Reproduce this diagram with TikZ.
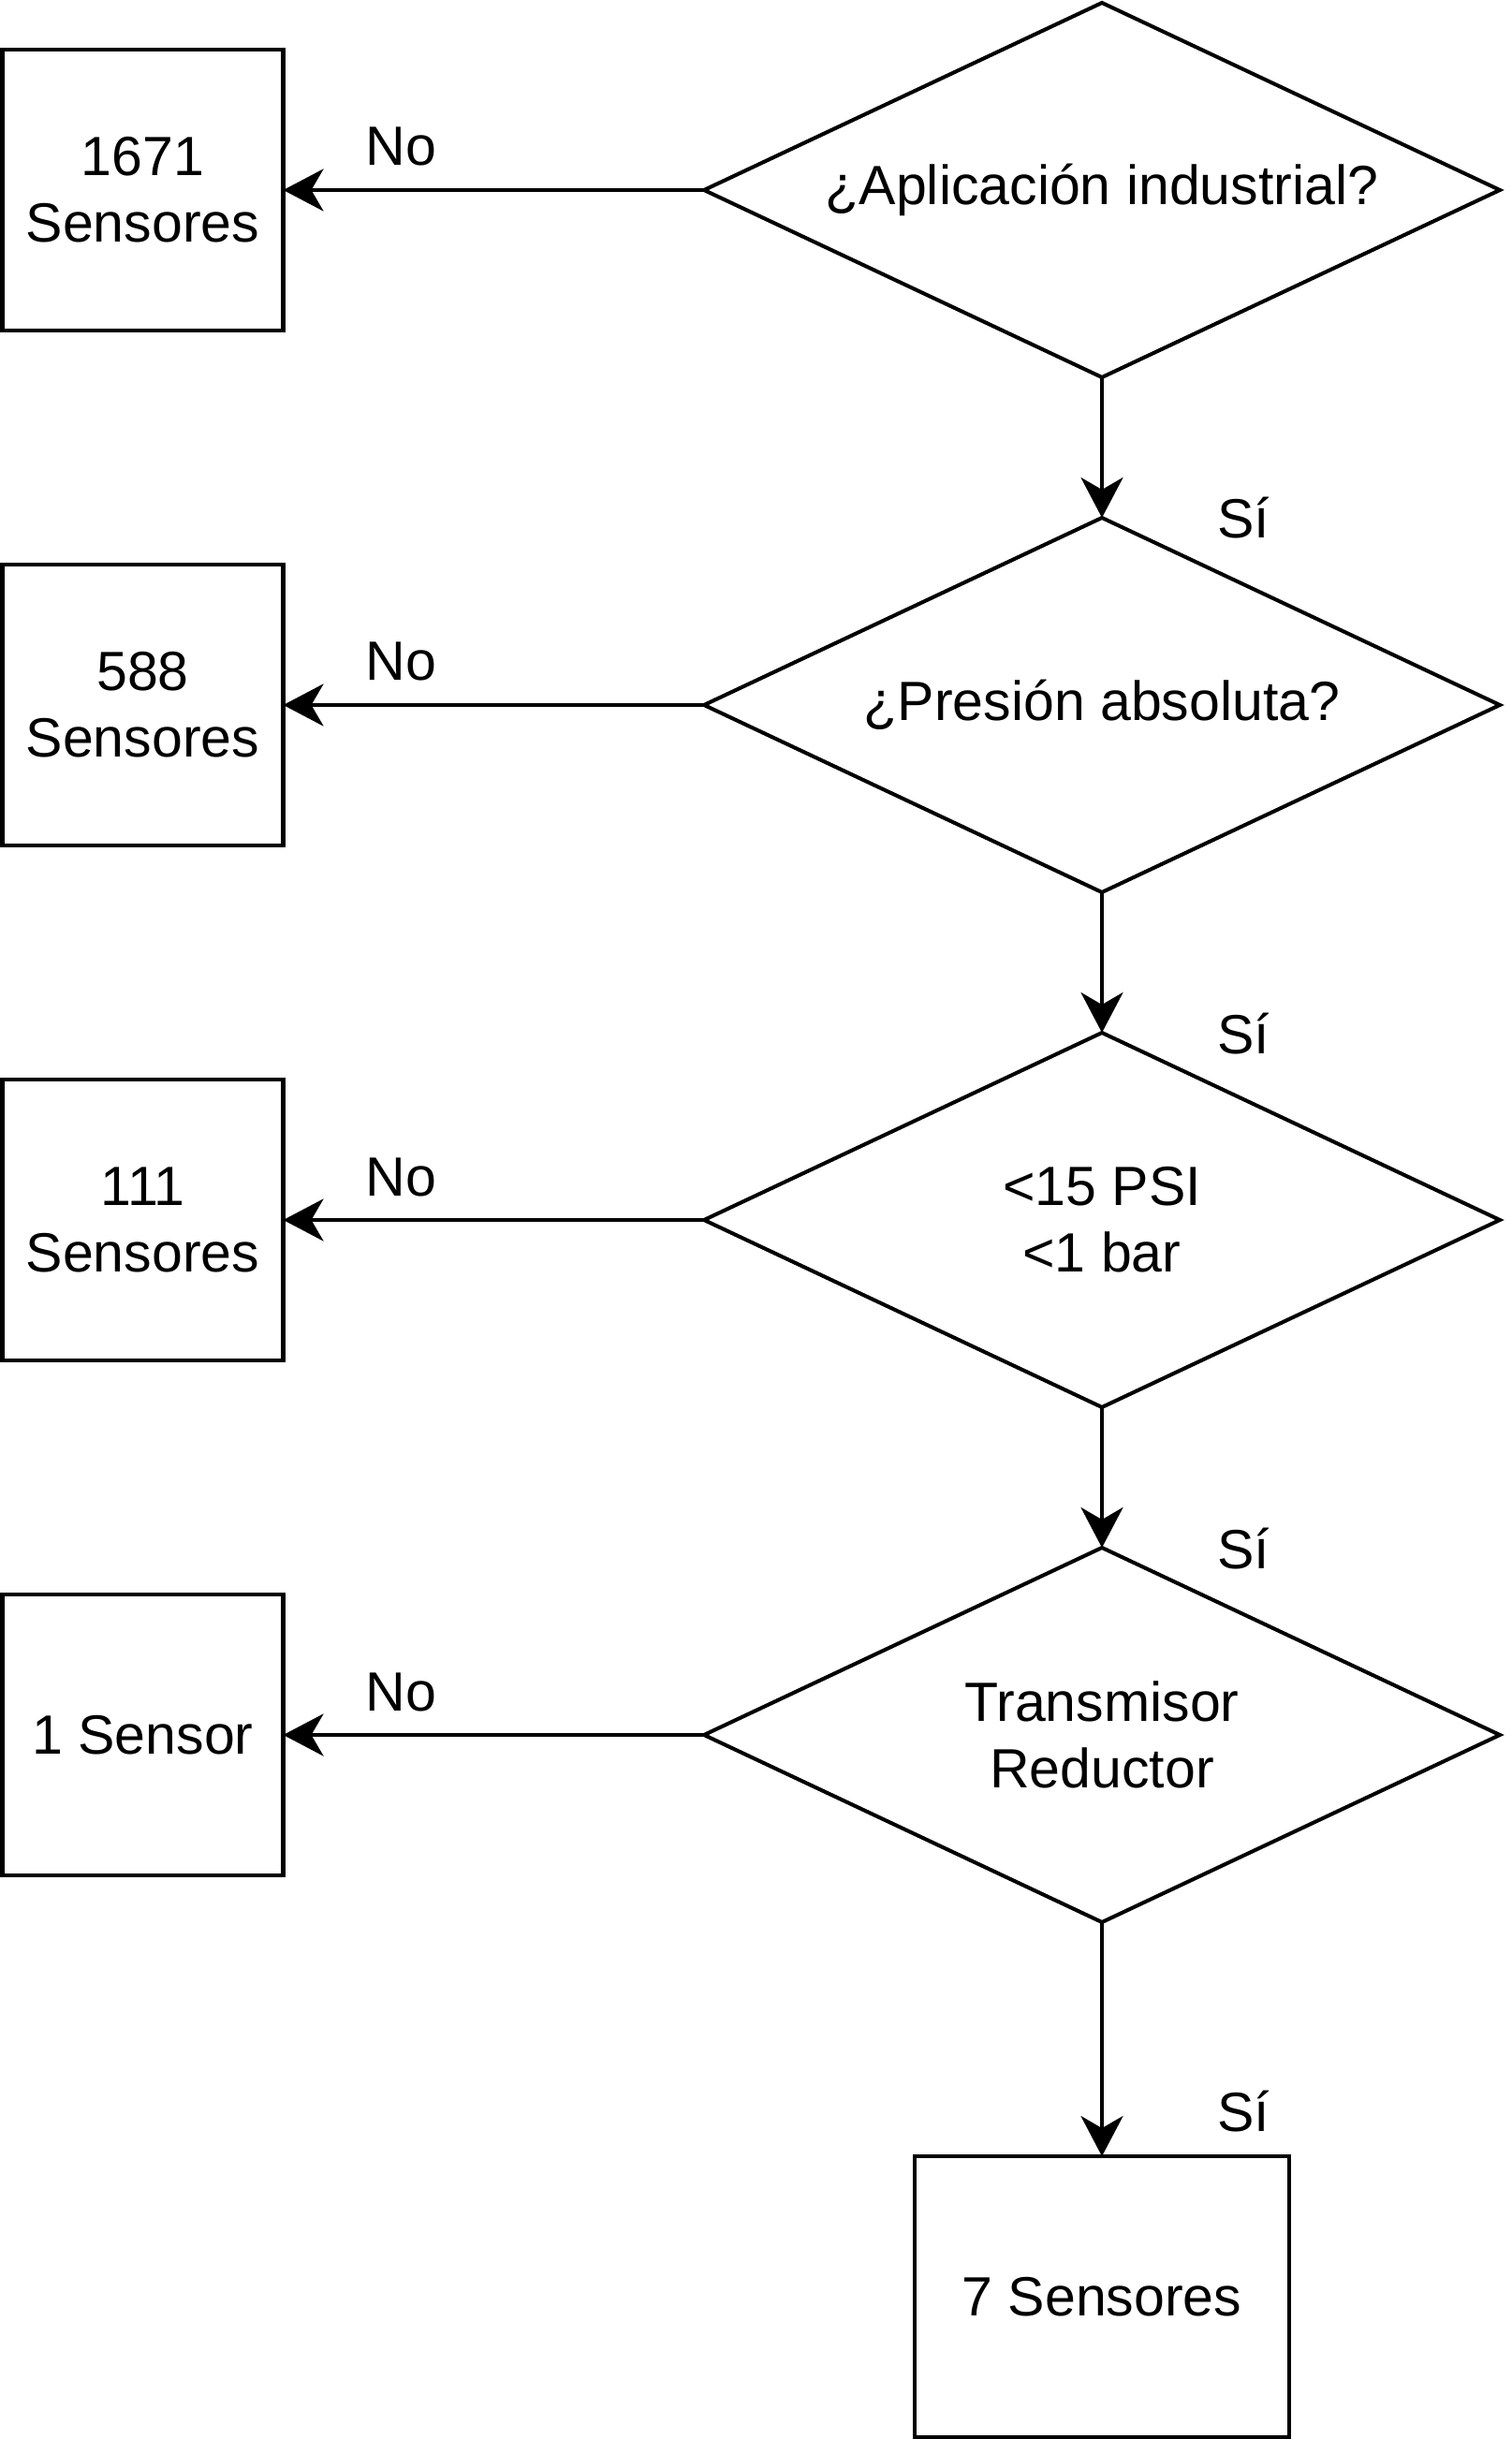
\documentclass[tikz,border=0pt]{standalone}
\usepackage{fontspec}
\setmainfont{Liberation Sans}
\usetikzlibrary{shapes,arrows.meta,positioning}
\tikzset{
    block/.style = {draw, rectangle, line width=1.15pt, outer sep=0pt,
        minimum height=3cm, minimum width=3cm, align=center},
    decision/.style = {draw, diamond, aspect=2.125, line width=1.15pt,
        outer sep=0pt, inner sep=0pt,
        minimum height=4cm, minimum width=8.5cm, align=center},
    arrow/.style = {draw, line width=1.15pt,
        -{Stealth[length=4.3mm,width=4.5mm,inset=1.3mm]}},
    nolabel/.style = {inner sep=0pt, anchor=base, pos=.72, yshift=2.6mm},
    silabel/.style = {inner sep=0pt, anchor=base west, xshift=12.1mm}
}
\begin{document}
\begin{tikzpicture}[node distance=5.5cm,
    every node/.style={font=\fontsize{16.8}{20.2}\selectfont}]
    \useasboundingbox (0,0) rectangle (16.15,-26.05);
        \node [decision] (q1) at (11.77,-2.03) {¿Aplicación industrial?};
        \node [decision, below of=q1] (q2) {¿Presión absoluta?};
        \node [decision, below of=q2] (q3) {<15 PSI\\<1 bar};
        \node [decision, below of=q3] (q4) {Transmisor\\Reductor};
        \node [block, minimum width=4cm, below of=q4, node distance=6cm] (out) {7 Sensores};
        \foreach \a [evaluate=\a as \prev using int(\a-1)] in {2,3,4}{
            \draw [arrow] (q\prev.south) -- (q\a.north) node [silabel, yshift=-2.2mm] {Sí};
        }
        \draw [arrow] (q4.south) -- (out.north) node [silabel, yshift=2.7mm] {Sí};
        \foreach \a/\txt in {1/{1671\\Sensores},2/{588\\Sensores},3/{111\\Sensores},4/{1 Sensor}}{
            \node [block, left of=q\a, node distance=10.245cm] (res\a) {\txt};
            \draw [arrow] (q\a.west) -- node [nolabel] {No} (res\a.east);
        }
\end{tikzpicture}
\end{document}
